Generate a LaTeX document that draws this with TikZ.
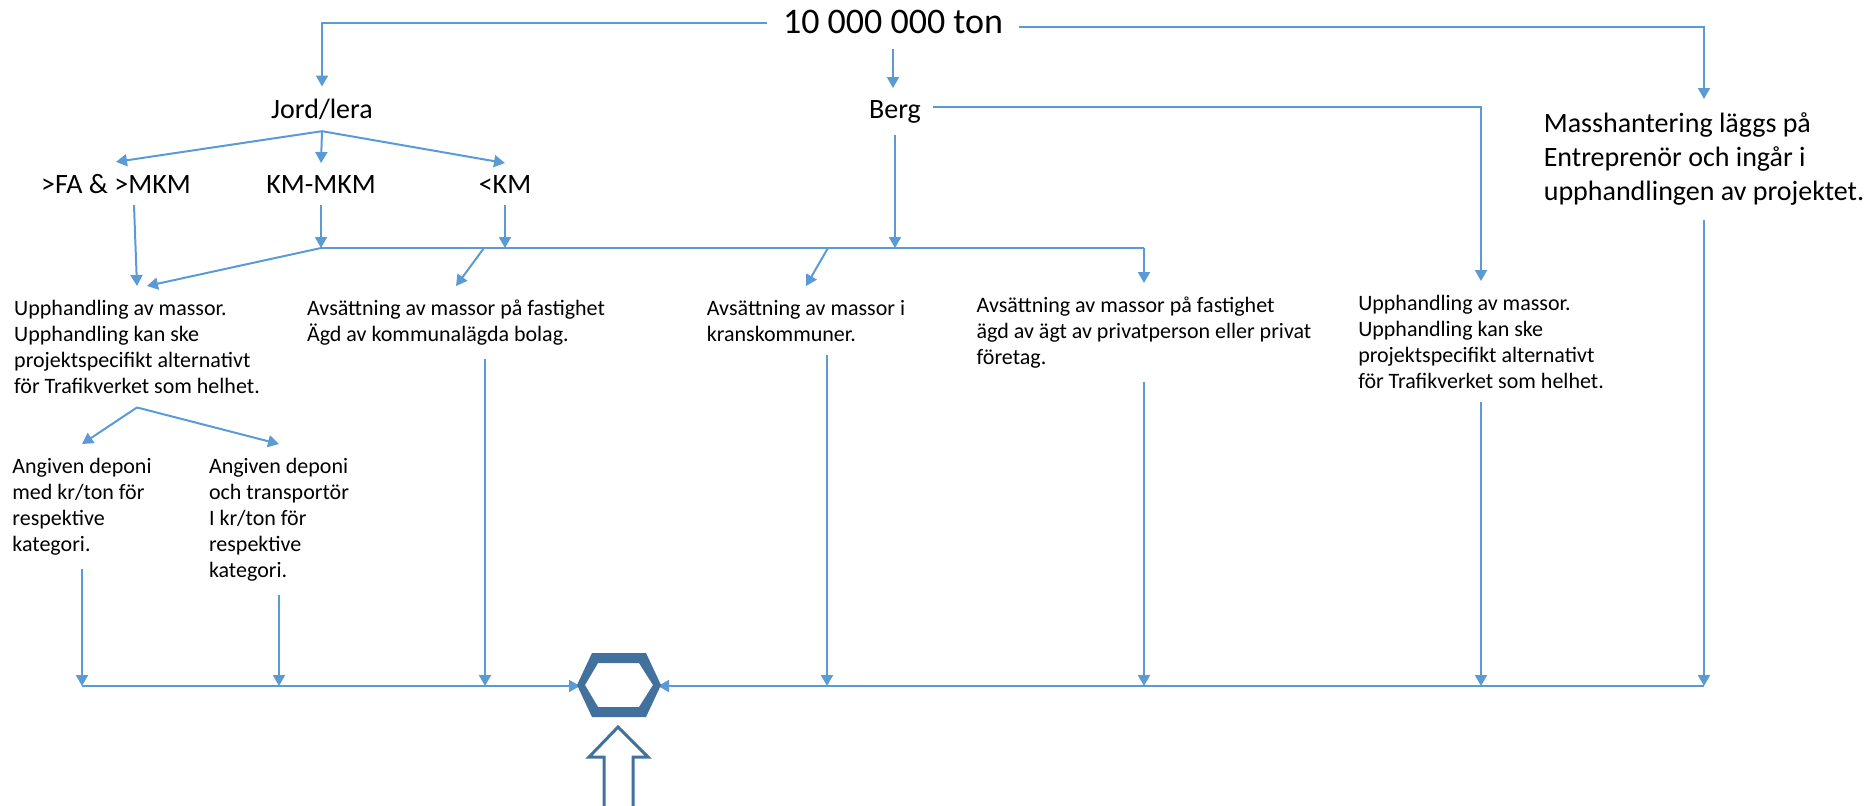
\documentclass[tikz,border=0pt]{standalone}
\usepackage{fontspec}
\setmainfont{Carlito}
\usetikzlibrary{arrows.meta, calc}
\definecolor{lineblue}{HTML}{5B9BD5}
\definecolor{hexblue}{HTML}{41719C}

\begin{document}
\begin{tikzpicture}[x=0.5pt, y=-0.5pt, >={Triangle[length=5.5pt,width=6pt]}, line join=miter,
	flow/.style={lineblue, line width=1pt, ->},
	link/.style={lineblue, line width=1pt},
	big/.style={font=\fontsize{18}{22}\selectfont, inner sep=0pt, outer sep=8pt, anchor=base},
	mid/.style={font=\fontsize{14}{17}\selectfont, inner sep=0pt, outer sep=6pt, anchor=base},
	small/.style={font=\fontsize{11}{13}\selectfont, inner sep=0pt, outer sep=7pt, align=left, anchor=north}]
	
	\useasboundingbox (0,0) rectangle (1871,805);
	
	%========================
	% Top: total and main groups
	%========================
	\node[big] (total) at (893,33) {10 000 000 ton};
	\node[mid] (jord) at (322,118) {Jord/lera};
	\node[mid] (berg) at (895,118) {Berg};
	\node[mid, align=left, anchor=north, outer sep=7pt] (entr) at (1704,99)
	{Masshantering läggs på\\Entreprenör och ingår i\\upphandlingen av projektet.};
	
	% categories under Jord/lera
	\node[mid] (fa) at (116,193) {>FA \& >MKM};
	\node[mid] (kmmkm) at (321,193) {KM-MKM};
	\node[mid] (km) at (505,193) {<KM};
	
	%========================
	% Middle: ways to handle the masses
	%========================
	\node[small] (upp) at (137,286)
	{Upphandling av massor.\\Upphandling kan ske\\projektspecifikt alternativt\\för Trafikverket som helhet.};
	\node[small] (avs) at (456,286)
	{Avsättning av massor på fastighet\\Ägd av kommunalägda bolag.};
	\node[small] (kran) at (806,286)
	{Avsättning av massor i\\kranskommuner.};
	\node[small] (priv) at (1144,283)
	{Avsättning av massor på fastighet\\ägd av ägt av privatperson eller privat\\företag.};
	\node[small] (upp2) at (1481,281)
	{Upphandling av massor.\\Upphandling kan ske\\projektspecifikt alternativt\\för Trafikverket som helhet.};
	\node[small] (ang1) at (82,444)
	{Angiven deponi\\med kr/ton för\\respektive\\kategori.};
	\node[small] (ang2) at (279,444)
	{Angiven deponi\\och transportör\\I kr/ton för\\respektive\\kategori.};
	
	% bus lines and hub
	\coordinate (upper) at (0,248);
	\coordinate (lower) at (0,686);
	\coordinate (avsfork) at (484,248);
	\coordinate (kranfork) at (828,248);
	\coordinate (hub) at (619,685);
	\coordinate (hubw) at (580,686);
	\coordinate (hube) at (658,686);
	
	%========================
	% Connectors
	%========================
	\draw[flow] ([yshift=-1pt]total.west) -| (jord.north);
	\draw[flow] (total.south) -- (total.south |- berg.north);
	\draw[flow] ([yshift=-3pt]total.east) -| (entr.north);
	
	\draw[flow] (jord.south) -- (fa.north);
	\draw[flow] (jord.south) -- (kmmkm.north);
	\draw[flow] (jord.south) -- (km.north);
	
	\draw[flow] ([xshift=9pt]fa.south) -- (upp.north);
	\draw[flow] (kmmkm.south) -- (kmmkm.south |- upper);
	\draw[flow] (km.south) -- (km.south |- upper);
	\draw[flow] (berg.south) -- (berg.south |- upper);
	\draw[link] (kmmkm.south |- upper) -- (priv.north |- upper);
	\draw[flow] (kmmkm.south |- upper) -- ([xshift=5pt]upp.north);
	\draw[flow] (avsfork) -- (avs.north);
	\draw[flow] (kranfork) -- (kran.north);
	\draw[flow] (priv.north |- upper) -- (priv.north);
	\draw[flow] ([yshift=2pt]berg.east) -| (upp2.north);
	
	\draw[flow] (upp.south) -- (ang1.north);
	\draw[flow] (upp.south) -- (ang2.north);
	
	% down to the lower bus
	\draw[flow] (ang1.south) -- (ang1.south |- lower);
	\draw[flow] (ang2.south) -- (ang2.south |- lower);
	\draw[flow] ([xshift=14.5pt]avs.south) -- ([xshift=14.5pt]avs.south |- lower);
	\draw[flow] ([xshift=10.5pt]kran.south) -- ([xshift=10.5pt]kran.south |- lower);
	\draw[flow] (priv.south) -- (priv.south |- lower);
	\draw[flow] (upp2.south) -- (upp2.south |- lower);
	\draw[flow] (entr.south) -- (entr.south |- lower);
	\draw[flow] (ang1.south |- lower) -- (hubw);
	\draw[flow] (entr.south |- lower) -- (hube);
	
	%========================
	% Hub (hexagon ring) and block arrow
	%========================
	\fill[hexblue, even odd rule]
	($(hub)+(-27,-32)$) -- ($(hub)+(27,-32)$) -- ($(hub)+(42,0)$)
	-- ($(hub)+(27,32)$) -- ($(hub)+(-27,32)$) -- ($(hub)+(-42,0)$) -- cycle
	($(hub)+(-21,-22)$) -- ($(hub)+(20,-22)$) -- ($(hub)+(34,0)$)
	-- ($(hub)+(20,22)$) -- ($(hub)+(-21,22)$) -- ($(hub)+(-34,0)$) -- cycle;
	\begin{scope}
		\clip (0,0) rectangle (1871,805);
		\draw[hexblue, line width=1.5pt, fill=white]
		(618,727) -- (648,757) -- (633,757) -- (633,812)
		-- (604,812) -- (604,757) -- (589,757) -- cycle;
	\end{scope}
	
\end{tikzpicture}
\end{document}
